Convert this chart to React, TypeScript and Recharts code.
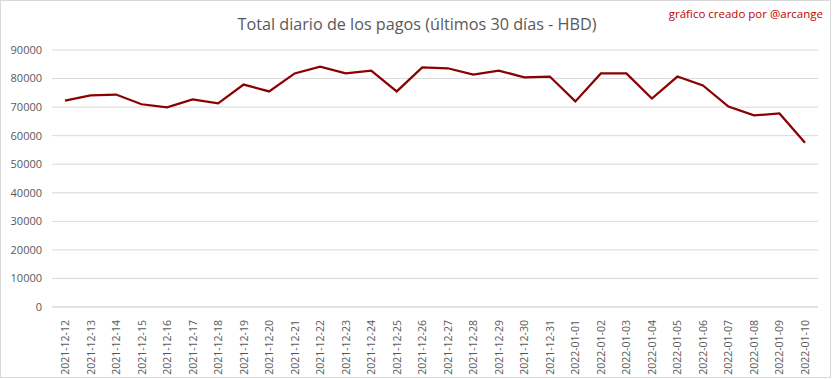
import { LineChart, Line, XAxis, YAxis, CartesianGrid } from "recharts";

const dates = [
  "2021-12-12", "2021-12-13", "2021-12-14", "2021-12-15", "2021-12-16", "2021-12-17",
  "2021-12-18", "2021-12-19", "2021-12-20", "2021-12-21", "2021-12-22", "2021-12-23",
  "2021-12-24", "2021-12-25", "2021-12-26", "2021-12-27", "2021-12-28", "2021-12-29",
  "2021-12-30", "2021-12-31", "2022-01-01", "2022-01-02", "2022-01-03", "2022-01-04",
  "2022-01-05", "2022-01-06", "2022-01-07", "2022-01-08", "2022-01-09", "2022-01-10",
];

const payouts = [
  72300, 74100, 74400, 71000, 69900, 72700,
  71300, 77900, 75500, 81800, 84200, 81800,
  82800, 75500, 83900, 83600, 81400, 82800,
  80400, 80700, 72000, 81800, 81800, 73000,
  80700, 77600, 70200, 67100, 67800, 57500,
];

const yTicks = [0, 10000, 20000, 30000, 40000, 50000, 60000, 70000, 80000, 90000];

const data = dates.map((date, i) => ({ date, total: payouts[i] }));

const FONT = "'Open Sans', 'DejaVu Sans', sans-serif";

const DateTick = ({ x, y, payload }: { x?: number; y?: number; payload?: { value: string } }) => (
  <text
    transform={`translate(${x},${(y ?? 0) + 5}) rotate(-90)`}
    textAnchor="end"
    dominantBaseline="central"
    fontSize={10.5}
    fontFamily={FONT}
    fill="#595959"
  >
    {payload?.value}
  </text>
);

export default function App() {
  return (
    <div style={{ position: "absolute", left: 0, top: 0, width: 833, height: 379, background: "#fff" }}>
      <div
        style={{
          position: "absolute", left: 0, top: 0, width: 831, height: 378,
          border: "1px solid #d9d9d9", boxSizing: "border-box",
        }}
      />
      <LineChart width={833} height={379} data={data} margin={{ top: 50, right: 15, left: 0, bottom: 0 }}>
        <text x={417} y={30} textAnchor="middle" fontSize={16.2} fontFamily={FONT} fill="#595959">
          Total diario de los pagos (últimos 30 días - HBD)
        </text>
        <text x={823} y={18} textAnchor="end" fontSize={11.5} fontFamily={FONT} fill="#c00000">
          gráfico creado por @arcange
        </text>
        <CartesianGrid horizontal vertical={false} stroke="#d9d9d9" />
        <XAxis
          dataKey="date"
          interval={0}
          height={72}
          padding={{ left: 13, right: 13 }}
          axisLine={{ stroke: "#d9d9d9" }}
          tickLine={false}
          tick={<DateTick />}
        />
        <YAxis
          width={52}
          domain={[0, 90000]}
          ticks={yTicks}
          axisLine={false}
          tickLine={false}
          tickSize={2}
          tickMargin={8}
          tick={{ fontSize: 11, fontFamily: FONT, fill: "#595959" }}
        />
        <Line
          type="linear"
          dataKey="total"
          stroke="#8b0000"
          strokeWidth={2.25}
          dot={false}
          isAnimationActive={false}
        />
      </LineChart>
    </div>
  );
}
